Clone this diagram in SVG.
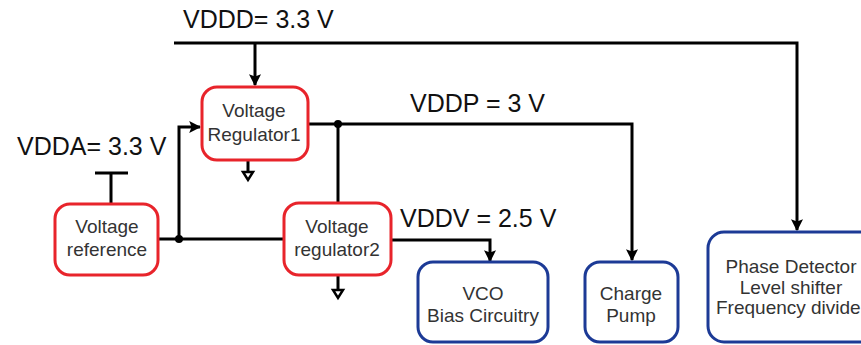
<svg xmlns="http://www.w3.org/2000/svg" width="861" height="345" viewBox="0 0 861 345">
<style>
.lbl{font-family:"Liberation Sans",Arial,sans-serif;font-size:25px;fill:#111}
.t{font-family:"Liberation Sans",Arial,sans-serif;font-size:19px;fill:#333;text-anchor:middle}
.reg{fill:#fff;stroke:#e8242b;stroke-width:3}
.blk{fill:#fff;stroke:#1c3a96;stroke-width:3}
.w{fill:none;stroke:#000;stroke-width:3;stroke-linejoin:miter}
.gnd{fill:#fff;stroke:#000;stroke-width:2.5}
</style>
<defs>
<marker id="ah" viewBox="0 0 10 10" refX="9" refY="5" markerWidth="4" markerHeight="4" orient="auto" markerUnits="strokeWidth">
<path d="M0,0 L10,5 L0,10 L2,5 z" fill="#000"/>
</marker>
</defs>
<rect width="861" height="345" fill="#fff"/>
<g id="labels">
<text class="lbl" x="183" y="28">VDDD= 3.3 V</text>
<text class="lbl" x="17" y="155">VDDA= 3.3 V</text>
<text class="lbl" x="410" y="112">VDDP = 3 V</text>
<text class="lbl" x="400" y="227">VDDV = 2.5 V</text>
</g>
<g id="connectors">
<path class="w" d="M174,43 H797 V230" marker-end="url(#ah)"/>
<path class="w" d="M255,43 V85" marker-end="url(#ah)"/>
<path class="w" d="M158,239 H283"/>
<path class="w" d="M179,239 V127 H200" marker-end="url(#ah)"/>
<path class="w" d="M308,124 H632 V260" marker-end="url(#ah)"/>
<path class="w" d="M338,124 V203"/>
<path class="w" d="M391,240 H490 V261" marker-end="url(#ah)"/>
<path class="w" d="M111,173 V204 M95,173 H128"/>
<path class="w" d="M248,160 V172"/>
<path class="gnd" d="M243,172 H253 L248,180 z"/>
<path class="w" d="M338,275 V290"/>
<path class="gnd" d="M333,290 H343 L338,298 z"/>
<circle cx="338" cy="124" r="4" fill="#000"/>
<circle cx="179" cy="239" r="4" fill="#000"/>
</g>
<g id="vref">
<rect class="reg" x="55" y="204" width="103" height="71" rx="15"/>
<text class="t" x="107" y="233">Voltage</text>
<text class="t" x="107" y="256">reference</text>
</g>
<g id="reg1">
<rect class="reg" x="202" y="87" width="106" height="73" rx="15"/>
<text class="t" x="254" y="117">Voltage</text>
<text class="t" x="254" y="141">Regulator1</text>
</g>
<g id="reg2">
<rect class="reg" x="284" y="203" width="107" height="72" rx="15"/>
<text class="t" x="337" y="233">Voltage</text>
<text class="t" x="337" y="256">regulator2</text>
</g>
<g id="vco">
<rect class="blk" x="418" y="262" width="130" height="80" rx="15"/>
<text class="t" x="483" y="300">VCO</text>
<text class="t" x="483" y="322">Bias Circuitry</text>
</g>
<g id="cp">
<rect class="blk" x="585" y="262" width="93" height="80" rx="15"/>
<text class="t" x="631" y="300">Charge</text>
<text class="t" x="631" y="322">Pump</text>
</g>
<g id="pd">
<rect class="blk" x="708" y="232" width="180" height="110" rx="16"/>
<text class="t" x="791" y="273">Phase Detector</text>
<text class="t" x="791" y="294">Level shifter</text>
<text class="t" x="716" y="314" style="text-anchor:start">Frequency divide</text>
</g>
</svg>
